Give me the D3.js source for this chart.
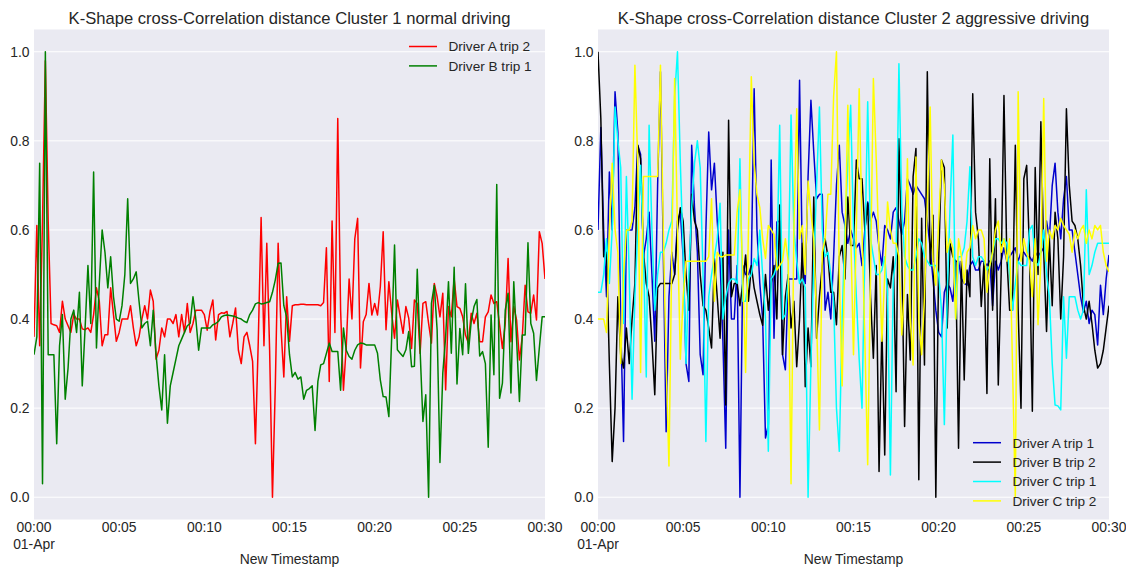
<!DOCTYPE html>
<html><head><meta charset="utf-8">
<script src="https://cdn.jsdelivr.net/npm/d3@7"></script>
<style>
body{margin:0;background:#fff;}
text{font-family:"Liberation Sans",Arial,sans-serif;fill:#262626;}
</style>
</head><body><svg id="c" width="1126" height="569"></svg>
<script>
// ---------------- data ----------------
const startTime = "2021-04-01T00:00:00";
const endTime = "2021-04-01T00:30:00";
const sampleSeconds = 10;
const yTicks = [0.0, 0.2, 0.4, 0.6, 0.8, 1.0];
const xTickMinutes = [0, 5, 10, 15, 20, 25, 30];
const xDateLabel = "01-Apr";
const xLabel = "New Timestamp";
const titles = ["K-Shape cross-Correlation distance Cluster 1 normal driving",
                "K-Shape cross-Correlation distance Cluster 2 aggressive driving"];
const leftNames = ["Driver A trip 2", "Driver B trip 1"];
const rightNames = ["Driver A trip 1", "Driver B trip 2", "Driver C trip 1", "Driver C trip 2"];

const driverA_trip2 = [
0.36,0.61,0.34,0.62,0.98,0.62,0.39,0.387,0.385,0.37,
0.44,0.40,0.385,0.37,0.41,0.40,0.40,0.378,0.376,0.38,
0.37,0.41,0.47,0.44,0.34,0.365,0.365,0.47,0.41,0.35,
0.37,0.40,0.40,0.40,0.43,0.38,0.34,0.36,0.40,0.43,
0.40,0.465,0.44,0.31,0.33,0.38,0.36,0.40,0.40,0.39,
0.41,0.36,0.41,0.37,0.435,0.37,0.39,0.42,0.42,0.42,
0.41,0.375,0.417,0.443,0.353,0.41,0.414,0.413,0.417,0.36,
0.39,0.425,0.33,0.30,0.36,0.37,0.34,0.305,0.12,0.35,
0.628,0.34,0.57,0.33,0.0,0.25,0.57,0.38,0.27,0.45,
0.35,0.43,0.432,0.432,0.433,0.433,0.432,0.432,0.432,0.432,
0.432,0.43,0.437,0.56,0.26,0.62,0.37,0.85,0.42,0.24,
0.34,0.49,0.40,0.58,0.626,0.29,0.394,0.41,0.48,0.409,
0.435,0.409,0.473,0.596,0.376,0.484,0.413,0.357,0.443,0.405,
0.368,0.428,0.402,0.334,0.443,0.435,0.323,0.435,0.439,0.39,
0.346,0.48,0.45,0.405,0.458,0.241,0.428,0.405,0.491,0.428,
0.424,0.405,0.364,0.346,0.413,0.39,0.413,0.349,0.349,0.405,
0.416,0.454,0.435,0.439,0.387,0.334,0.39,0.536,0.349,0.428,
0.398,0.308,0.361,0.476,0.416,0.413,0.454,0.398,0.596,0.57,0.49];

const driverB_trip1 = [
0.32,0.36,0.75,0.03,1.0,0.32,0.32,0.32,0.12,0.34,
0.41,0.22,0.29,0.40,0.42,0.37,0.46,0.25,0.38,0.52,
0.39,0.73,0.335,0.48,0.60,0.55,0.47,0.54,0.45,0.40,
0.395,0.43,0.50,0.67,0.48,0.49,0.506,0.44,0.38,0.39,
0.395,0.34,0.42,0.32,0.25,0.196,0.32,0.166,0.25,0.28,
0.31,0.34,0.355,0.37,0.385,0.39,0.45,0.40,0.33,0.38,
0.38,0.38,0.38,0.387,0.39,0.395,0.405,0.408,0.409,0.408,
0.407,0.405,0.402,0.40,0.395,0.392,0.41,0.42,0.434,0.437,
0.434,0.435,0.437,0.439,0.46,0.488,0.525,0.526,0.43,0.405,
0.32,0.27,0.28,0.265,0.27,0.22,0.24,0.244,0.25,0.15,
0.26,0.297,0.30,0.323,0.346,0.327,0.327,0.327,0.24,0.38,
0.33,0.316,0.31,0.33,0.342,0.346,0.345,0.342,0.342,0.342,
0.342,0.323,0.263,0.226,0.225,0.181,0.36,0.566,0.331,0.323,
0.316,0.331,0.372,0.293,0.294,0.512,0.331,0.17,0.23,0.0,
0.435,0.476,0.376,0.078,0.279,0.36,0.484,0.323,0.516,0.254,
0.379,0.32,0.479,0.323,0.394,0.428,0.444,0.317,0.327,0.30,
0.112,0.409,0.275,0.702,0.222,0.256,0.42,0.458,0.234,0.484,
0.353,0.215,0.364,0.364,0.571,0.39,0.368,0.262,0.335,0.405,0.405];

const driverA_trip1 = [
0.6,0.83,0.6,0.45,0.73,0.6,0.91,0.82,0.39,0.125,
0.6,0.6,0.6,0.65,0.79,0.77,0.54,0.58,0.64,0.5,
0.35,0.7,0.955,0.55,0.147,0.45,0.55,0.5,0.62,0.64,
0.54,0.3,0.26,0.79,0.65,0.55,0.32,0.275,0.6,0.82,
0.69,0.75,0.62,0.53,0.35,0.11,0.6,0.4,0.4,0.52,
0.0,0.52,0.5,0.5,0.52,0.917,0.6,0.48,0.40,0.133,
0.163,0.757,0.357,0.618,0.62,0.32,0.286,0.49,0.49,0.49,
0.49,0.936,0.52,0.48,0.72,0.891,0.775,0.67,0.68,0.68,
0.42,0.46,0.40,0.54,0.70,0.79,0.64,0.61,0.57,0.6,
0.58,0.56,0.57,0.52,0.6,0.663,0.62,0.64,0.62,0.56,
0.52,0.61,0.6,0.58,0.64,0.65,0.62,0.59,0.62,0.715,
0.7,0.68,0.70,0.69,0.68,0.67,0.62,0.56,0.49,0.42,
0.37,0.36,0.46,0.48,0.47,0.44,0.53,0.53,0.49,0.48,
0.476,0.52,0.53,0.51,0.51,0.53,0.53,0.52,0.53,0.43,
0.53,0.51,0.53,0.56,0.53,0.54,0.55,0.56,0.53,0.55,
0.55,0.54,0.54,0.53,0.55,0.54,0.55,0.56,0.62,0.58,
0.7,0.75,0.64,0.58,0.67,0.72,0.6,0.6,0.55,0.5,
0.45,0.416,0.44,0.39,0.42,0.41,0.342,0.476,0.41,0.49,0.544];

const driverB_trip2 = [
1.0,0.85,0.54,0.55,0.3,0.08,0.2,0.45,0.32,0.29,
0.38,0.30,0.40,0.48,0.79,0.76,0.55,0.48,0.45,0.35,
0.23,0.47,0.48,0.48,0.48,0.48,0.48,0.5,0.6,0.65,
0.62,0.5,0.42,0.68,0.62,0.6,0.5,0.43,0.42,0.38,
0.335,0.536,0.45,0.357,0.55,0.207,0.846,0.45,0.48,0.48,
0.43,0.48,0.544,0.44,0.52,0.47,0.44,0.41,0.386,0.5,
0.42,0.48,0.52,0.40,0.656,0.32,0.45,0.5,0.38,0.44,
0.293,0.4,0.57,0.248,0.38,0.293,0.674,0.357,0.45,0.52,
0.58,0.54,0.46,0.46,0.387,0.54,0.565,0.49,0.674,0.565,
0.565,0.757,0.715,0.715,0.6,0.66,0.45,0.312,0.52,0.058,
0.38,0.095,0.49,0.47,0.54,0.237,0.805,0.55,0.159,0.455,
0.308,0.72,0.783,0.039,0.626,0.297,0.955,0.52,0.633,0.0,
0.53,0.757,0.74,0.38,0.57,0.54,0.53,0.11,0.53,0.263,
0.51,0.45,0.906,0.64,0.58,0.428,0.53,0.233,0.76,0.42,
0.67,0.252,0.5,0.902,0.54,0.42,0.42,0.79,0.42,0.2,
0.715,0.745,0.55,0.193,0.74,0.5,0.843,0.55,0.372,0.58,
0.43,0.64,0.58,0.40,0.54,0.872,0.7,0.62,0.61,0.58,
0.52,0.43,0.40,0.44,0.39,0.33,0.29,0.30,0.33,0.38,0.43];

const driverC_trip1 = [
0.46,0.46,0.5,0.58,0.48,0.6,0.876,0.8,0.74,0.39,
0.72,0.5,0.22,0.45,0.6,0.745,0.55,0.27,0.835,0.6,
0.42,0.5,0.55,0.55,0.57,0.6,0.62,0.9,1.0,0.75,
0.55,0.30,0.5,0.65,0.75,0.8,0.74,0.5,0.125,0.45,
0.5,0.54,0.58,0.66,0.4,0.45,0.48,0.49,0.49,0.48,
0.76,0.44,0.44,0.49,0.5,0.536,0.52,0.6,0.5,0.40,
0.103,0.49,0.5,0.52,0.835,0.4,0.41,0.49,0.858,0.6,
0.53,0.48,0.49,0.47,0.0,0.3,0.52,0.7,0.876,0.6,
0.54,0.55,0.5,0.44,0.2,0.103,0.4,0.6,0.75,0.88,
0.6,0.45,0.31,0.2,0.55,0.888,0.58,0.54,0.5,0.5,
0.51,0.54,0.46,0.05,0.49,0.54,0.973,0.65,0.54,0.52,
0.51,0.51,0.54,0.58,0.57,0.54,0.53,0.52,0.52,0.52,
0.5,0.42,0.163,0.45,0.65,0.813,0.4,0.54,0.54,0.56,
0.62,0.742,0.54,0.52,0.54,0.54,0.53,0.51,0.52,0.55,
0.58,0.58,0.57,0.58,0.57,0.5,0.42,0.48,0.53,0.52,
0.52,0.52,0.6,0.61,0.53,0.52,0.55,0.6,0.5,0.45,
0.3,0.207,0.205,0.196,0.45,0.312,0.45,0.45,0.45,0.42,
0.40,0.42,0.69,0.5,0.52,0.55,0.57,0.57,0.57,0.57,0.57];

const driverC_trip2 = [
0.4,0.4,0.4,0.37,0.6,0.75,0.6,0.55,0.3,0.5,
0.6,0.6,0.62,0.97,0.75,0.28,0.72,0.72,0.72,0.72,
0.72,0.72,0.97,0.6,0.3,0.07,0.55,0.94,0.6,0.31,
0.45,0.53,0.53,0.53,0.53,0.53,0.53,0.53,0.53,0.54,
0.67,0.44,0.55,0.54,0.54,0.544,0.544,0.544,0.544,0.64,
0.69,0.5,0.28,0.6,0.944,0.75,0.68,0.65,0.58,0.536,
0.61,0.6,0.59,0.51,0.52,0.53,0.58,0.53,0.03,0.6,
0.872,0.58,0.61,0.5,0.71,0.64,0.58,0.4,0.151,0.55,
0.58,0.68,0.68,0.9,1.0,0.5,0.25,0.55,0.88,0.6,
0.32,0.6,0.917,0.6,0.35,0.073,0.5,0.94,0.76,0.55,
0.35,0.5,0.663,0.6,0.57,0.57,0.54,0.364,0.48,0.76,
0.4,0.297,0.764,0.4,0.32,0.45,0.65,0.876,0.53,0.476,
0.62,0.757,0.7,0.55,0.58,0.56,0.40,0.58,0.54,0.48,
0.55,0.56,0.61,0.58,0.6,0.6,0.58,0.46,0.52,0.55,
0.6,0.62,0.55,0.58,0.53,0.58,0.3,0.0,0.91,0.53,
0.58,0.55,0.53,0.45,0.58,0.387,0.53,0.895,0.53,0.6,
0.58,0.61,0.6,0.626,0.61,0.6,0.59,0.55,0.6,0.58,
0.6,0.61,0.57,0.6,0.58,0.61,0.6,0.61,0.55,0.52,0.506];

const leftSeries = [driverA_trip2, driverB_trip1];
const rightSeries = [driverA_trip1, driverB_trip2, driverC_trip1, driverC_trip2];
const leftColors = ["#ff0000", "#008000"];
const rightColors = ["#0000cd", "#000000", "#00ffff", "#ffff00"];

// ---------------- drawing ----------------
const svg = d3.select("#c");
const t0 = new Date(startTime), t1 = new Date(endTime);
const timeAt = i => new Date(t0.getTime() + i * sampleSeconds * 1000);
const fmt = d3.timeFormat("%H:%M");

const plotTop = 29.5, plotBottom = 519.5;
const y = d3.scaleLinear().domain([-0.05, 1.05]).range([plotBottom, plotTop]);

function panel(x0, x1, title, series, colors) {
  const x = d3.scaleTime().domain([t0, t1]).range([x0, x1]);
  const g = svg.append("g");
  g.append("rect").attr("x", x0).attr("y", plotTop).attr("width", x1 - x0)
    .attr("height", plotBottom - plotTop).attr("fill", "#eaeaf2");
  g.selectAll(".grid").data(yTicks).enter().append("line")
    .attr("x1", x0).attr("x2", x1).attr("y1", d => y(d)).attr("y2", d => y(d))
    .attr("stroke", "#ffffff").attr("stroke-width", 1);
  g.selectAll(".yl").data(yTicks).enter().append("text")
    .attr("x", x0 - 4.5).attr("y", d => y(d)).attr("dy", "0.36em")
    .attr("text-anchor", "end").attr("font-size", "13.9px").text(d => d.toFixed(1));
  const xticks = xTickMinutes.map(m => new Date(t0.getTime() + m * 60000));
  g.selectAll(".xl").data(xticks).enter().append("text")
    .attr("x", d => x(d)).attr("y", 532).attr("text-anchor", "middle")
    .attr("font-size", "13.9px").text(d => fmt(d));
  g.append("text").attr("x", x(t0)).attr("y", 548.5).attr("text-anchor", "middle")
    .attr("font-size", "13.9px").text(xDateLabel);
  g.append("text").attr("x", (x0 + x1) / 2).attr("y", 563.5).attr("text-anchor", "middle")
    .attr("font-size", "13.9px").text(xLabel);
  g.append("text").attr("x", (x0 + x1) / 2).attr("y", 24).attr("text-anchor", "middle")
    .attr("font-size", "16.6px").text(title);
  const line = d3.line().x((d, i) => x(timeAt(i))).y(d => y(d));
  const clipId = "clip" + Math.round(x0);
  svg.append("clipPath").attr("id", clipId).append("rect")
    .attr("x", x0).attr("y", plotTop).attr("width", x1 - x0).attr("height", plotBottom - plotTop);
  const lg = g.append("g").attr("clip-path", `url(#${clipId})`);
  series.forEach((s, k) => {
    lg.append("path").datum(s).attr("d", line).attr("fill", "none")
      .attr("stroke", colors[k]).attr("stroke-width", 1.5).attr("stroke-linejoin", "round");
  });
  return {g, x};
}

const L = panel(34, 545, titles[0], leftSeries, leftColors);
const R = panel(598, 1109, titles[1], rightSeries, rightColors);

function legend(g, xStart, yStart, names, colors) {
  names.forEach((n, k) => {
    const yy = yStart + k * 19.4;
    g.append("line").attr("x1", xStart).attr("x2", xStart + 28).attr("y1", yy).attr("y2", yy)
      .attr("stroke", colors[k]).attr("stroke-width", 1.5);
    g.append("text").attr("x", xStart + 39.5).attr("y", yy).attr("dy", "0.36em")
      .attr("font-size", "13.6px").text(n);
  });
}
legend(L.g, 409, 46.5, leftNames, leftColors);
legend(R.g, 973, 442.7, rightNames, rightColors);
</script>
</body></html>
